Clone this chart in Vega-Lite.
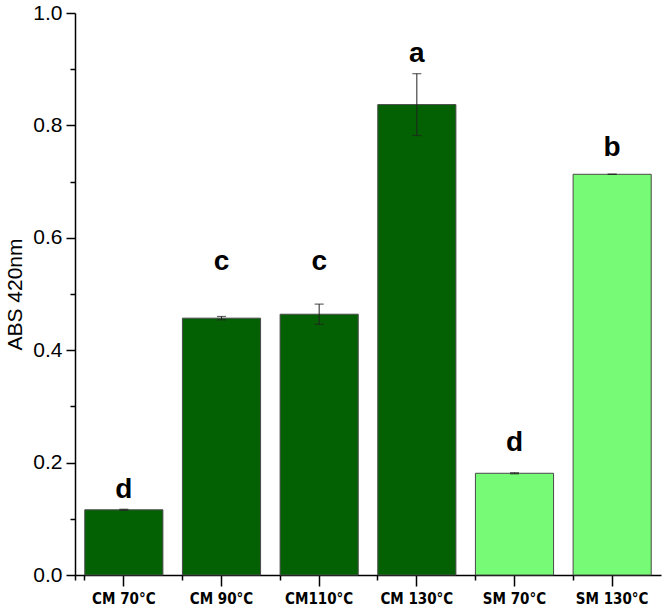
{
  "$schema": "https://vega.github.io/schema/vega-lite/v6.json",
  "width": 586,
  "height": 562,
  "padding": {"left": 4, "top": 2, "right": 3, "bottom": 2},
  "background": "white",
  "config": {"view": {"stroke": null}, "font": "Liberation Sans"},
  "data": {"values": [
    {"group": "CM 70°C", "abs": 0.116, "sd": 0.001, "letter": "d", "letterY": 0.151, "type": "CM"},
    {"group": "CM 90°C", "abs": 0.457, "sd": 0.003, "letter": "c", "letterY": 0.557, "type": "CM"},
    {"group": "CM110°C", "abs": 0.464, "sd": 0.018, "letter": "c", "letterY": 0.557, "type": "CM"},
    {"group": "CM 130°C", "abs": 0.837, "sd": 0.055, "letter": "a", "letterY": 0.927, "type": "CM"},
    {"group": "SM 70°C", "abs": 0.181, "sd": 0.001, "letter": "d", "letterY": 0.235, "type": "SM"},
    {"group": "SM 130°C", "abs": 0.713, "sd": 0.0, "letter": "b", "letterY": 0.760, "type": "SM"}
  ]},
  "transform": [
    {"calculate": "datum.abs - datum.sd", "as": "lo"},
    {"calculate": "datum.abs + datum.sd", "as": "hi"}
  ],
  "resolve": {"axis": {"x": "independent", "y": "independent"}},
  "layer": [
    {
      "mark": {"type": "bar", "stroke": "#4a4a4a", "strokeWidth": 1},
      "encoding": {
        "x": {"field": "group", "type": "nominal", "sort": null,
          "scale": {"paddingInner": 0.2, "paddingOuter": 0.1},
          "axis": {"title": null, "orient": "bottom", "labelAngle": 0, "labelFont": "DejaVu Sans Condensed, Liberation Sans", "labelFontWeight": "bold", "labelFontSize": 15, "labelColor": "black", "labelPadding": 5, "tickSize": 11, "tickColor": "black", "domainColor": "black", "domainWidth": 1.5, "tickWidth": 1.5}},
        "y": {"field": "abs", "type": "quantitative",
          "scale": {"domain": [0, 1.0], "nice": false},
          "axis": {"title": "ABS 420nm", "orient": "left", "titleFontSize": 21, "titleFontWeight": "normal", "titleColor": "black", "titlePadding": 7,
            "values": [0, 0.2, 0.4, 0.6, 0.8, 1.0], "format": ".1f", "labelFontSize": 21, "labelColor": "black",
            "grid": false, "tickSize": 9, "tickColor": "black", "domainColor": "black", "domainWidth": 1.5, "tickWidth": 1.5, "labelPadding": 4}},
        "color": {"field": "type", "type": "nominal", "scale": {"domain": ["CM", "SM"], "range": ["#036103", "#77FB77"]}, "legend": null}
      }
    },
    {
      "mark": {"type": "rule", "color": "#222", "strokeWidth": 1},
      "encoding": {
        "x": {"field": "group", "type": "nominal", "sort": null,
          "axis": {"title": null, "orient": "bottom", "labels": false, "domain": false, "bandPosition": 0, "tickExtra": true, "tickSize": 5, "tickColor": "black", "tickWidth": 1.5}},
        "y": {"field": "lo", "type": "quantitative",
          "axis": {"title": null, "orient": "left", "labels": false, "domain": false, "grid": false, "values": [0.1, 0.3, 0.5, 0.7, 0.9], "tickSize": 5, "tickColor": "black", "tickWidth": 1.5}},
        "y2": {"field": "hi"}
      }
    },
    {
      "mark": {"type": "tick", "color": "#222", "thickness": 1.2, "size": 9},
      "encoding": {
        "x": {"field": "group", "type": "nominal", "sort": null, "axis": null},
        "y": {"field": "lo", "type": "quantitative", "axis": null}}
    },
    {
      "mark": {"type": "tick", "color": "#222", "thickness": 1.2, "size": 9},
      "encoding": {
        "x": {"field": "group", "type": "nominal", "sort": null, "axis": null},
        "y": {"field": "hi", "type": "quantitative", "axis": null}}
    },
    {
      "mark": {"type": "text", "fontSize": 28, "fontWeight": "bold", "color": "black", "baseline": "middle"},
      "encoding": {
        "x": {"field": "group", "type": "nominal", "sort": null, "axis": null},
        "y": {"field": "letterY", "type": "quantitative", "axis": null},
        "text": {"field": "letter"}}
    }
  ]
}
